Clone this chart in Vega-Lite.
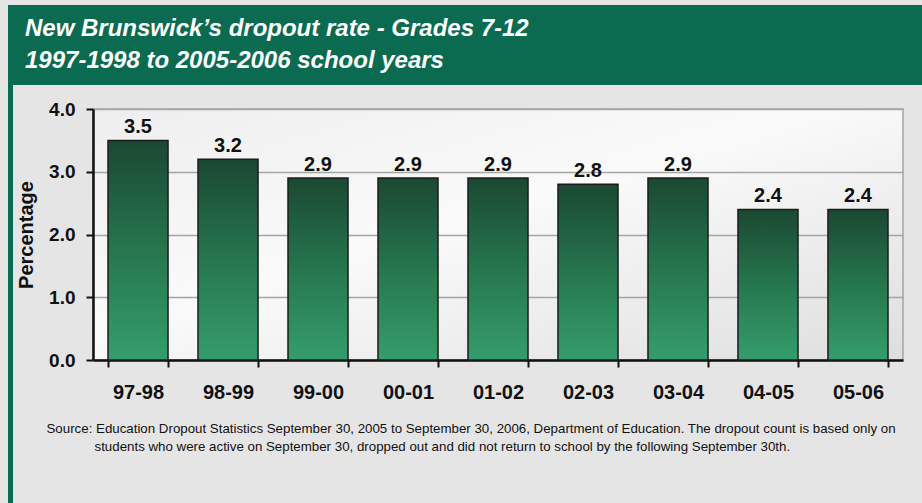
{
  "$schema": "https://vega.github.io/schema/vega-lite/v6.json",
  "background": "#e5e5e5",
  "padding": {"left": 8, "top": 5, "right": 0, "bottom": 0},
  "spacing": 0,
  "config": {"font": "Liberation Sans", "view": {"stroke": null}},
  "hconcat": [
    {
      "width": 5,
      "height": 498,
      "view": {"fill": "#0b6b50", "stroke": null},
      "data": {"values": [{"t": ""}]},
      "mark": {"type": "text"},
      "encoding": {"text": {"field": "t"}}
    },
    {
      "spacing": 0,
      "vconcat": [
        {
          "width": 909,
          "height": 80,
          "view": {"fill": "#0b6b50", "stroke": null},
          "title": {
            "text": ["New Brunswick’s dropout rate - Grades 7-12", "1997-1998 to 2005-2006 school years"],
            "orient": "top",
            "anchor": "start",
            "offset": -87,
            "baseline": "alphabetic",
            "dx": 12,
            "fontSize": 24,
            "fontWeight": "bold",
            "fontStyle": "italic",
            "color": "#ffffff",
            "lineHeight": 32,
            "font": "Liberation Sans"
          },
          "data": {"values": [{"t": ""}]},
          "mark": {"type": "text"},
          "encoding": {"text": {"field": "t"}}
        },
        {
          "spacing": 0,
          "hconcat": [
            {
              "width": 1,
              "height": 1,
              "view": {"fill": null, "stroke": null},
              "data": {"values": [{"t": ""}]},
              "mark": {"type": "text"},
              "encoding": {"text": {"field": "t"}}
            },
            {
              "width": 810,
              "height": 251,
              "title": {"text": "\u200b", "fontSize": 2, "offset": 12},
              "view": {
                "fill": {
                  "gradient": "linear", "x1": 0, "y1": 0, "x2": 1, "y2": 1,
                  "stops": [
                    {"offset": 0, "color": "#eeeeee"},
                    {"offset": 0.45, "color": "#fafafa"},
                    {"offset": 1, "color": "#dedede"}
                  ]
                },
                "stroke": "#a5a5a5",
                "strokeWidth": 1.5
              },
              "data": {
                "values": [
                  {"year": "97-98", "rate": 3.5},
                  {"year": "98-99", "rate": 3.2},
                  {"year": "99-00", "rate": 2.9},
                  {"year": "00-01", "rate": 2.9},
                  {"year": "01-02", "rate": 2.9},
                  {"year": "02-03", "rate": 2.8},
                  {"year": "03-04", "rate": 2.9},
                  {"year": "04-05", "rate": 2.4},
                  {"year": "05-06", "rate": 2.4}
                ]
              },
              "encoding": {
                "x": {
                  "field": "year",
                  "type": "nominal",
                  "sort": null,
                  "scale": {"paddingInner": 0.333, "paddingOuter": 0.1667},
                  "axis": {
                    "labelAngle": 0,
                    "labelFontSize": 20,
                    "labelFontWeight": "bold",
                    "labelColor": "#111111",
                    "labelPadding": 15,
                    "tickSize": 7,
                    "tickColor": "#111111",
                    "tickWidth": 2,
                    "tickBand": "extent",
                    "domainColor": "#111111",
                    "domainWidth": 2.5,
                    "title": [
                      "Source: Education Dropout Statistics September 30, 2005 to September 30, 2006, Department of Education. The dropout count is based only on",
                      "\u200b\u00a0\u00a0\u00a0\u00a0\u00a0\u00a0\u00a0\u00a0\u00a0\u00a0\u00a0\u00a0\u00a0students who were active on September 30, dropped out and did not return to school by the following September 30th."
                    ],
                    "titleFontSize": 13.3,
                    "titleFontWeight": "normal",
                    "titleColor": "#111111",
                    "titleX": -47,
                    "titleY": 72,
                    "titleAlign": "left",
                    "titleAnchor": "start",
                    "titleBaseline": "alphabetic",
                    "titleLineHeight": 18
                  }
                },
                "y": {
                  "field": "rate",
                  "type": "quantitative",
                  "scale": {"domain": [0, 4]},
                  "axis": {
                    "values": [0, 1, 2, 3, 4],
                    "format": ".1f",
                    "title": ["\u200b", "Percentage"],
                    "titleFontSize": 20,
                    "titleLineHeight": 1,
                    "titleFontWeight": "bold",
                    "titleColor": "#111111",
                    "titlePadding": 12,
                    "labelFontSize": 19,
                    "labelFontWeight": "bold",
                    "labelColor": "#111111",
                    "labelPadding": 11,
                    "tickSize": 7,
                    "tickColor": "#111111",
                    "tickWidth": 2,
                    "domainColor": "#111111",
                    "domainWidth": 2.5,
                    "grid": true,
                    "gridColor": "#a5a5a5",
                    "gridWidth": 1.5
                  }
                }
              },
              "layer": [
                {
                  "mark": {
                    "type": "bar",
                    "fill": {
                      "gradient": "linear", "x1": 0, "y1": 0, "x2": 0, "y2": 1,
                      "stops": [
                        {"offset": 0, "color": "#1b4832"},
                        {"offset": 0.5, "color": "#26764f"},
                        {"offset": 1, "color": "#359d6d"}
                      ]
                    },
                    "stroke": "#1c1c1c",
                    "strokeWidth": 1.5
                  }
                },
                {
                  "mark": {
                    "type": "text",
                    "baseline": "alphabetic",
                    "dy": -7,
                    "fontSize": 20,
                    "fontWeight": "bold",
                    "color": "#111111"
                  },
                  "encoding": {"text": {"field": "rate", "type": "quantitative", "format": ".1f"}}
                }
              ]
            }
          ]
        }
      ]
    }
  ]
}
